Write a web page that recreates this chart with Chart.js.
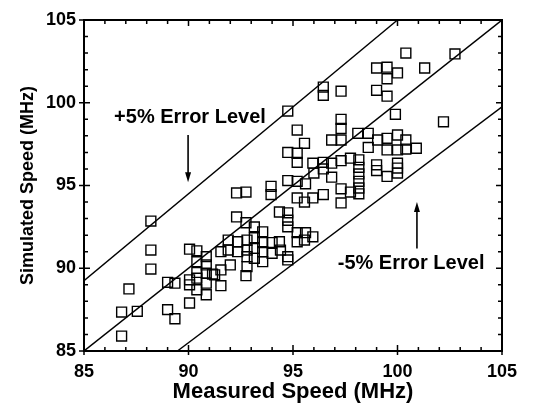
<!DOCTYPE html>
<html>
<head>
<meta charset="utf-8">
<script src="https://cdn.jsdelivr.net/npm/chart.js@4.4.0/dist/chart.umd.min.js"></script>
<style>
  html, body { margin: 0; padding: 0; background: #fff; }
</style>
</head>
<body>
<canvas id="chart" width="545" height="409"></canvas>
<script>
// measured vs simulated speed (MHz)
const measuredSpeed = [
  88.2, 88.2, 88.2, 87.15, 86.8, 87.55, 86.8, 89.0, 89.35, 89.0, 89.35,
  90.05, 90.4, 90.85, 90.4, 90.85, 90.4, 90.85, 91.25, 90.05, 90.05, 90.85, 90.85, 90.05, 90.4, 91.55, 91.55, 91.55, 91.9, 91.9, 92.0, 91.15, 90.4,
  92.3, 92.75, 92.3, 92.75, 92.35, 92.35, 92.8, 92.8, 92.8, 92.8, 92.75, 93.15, 93.15, 93.15, 93.15, 93.55, 93.55, 93.55, 93.55, 93.95, 93.95, 94.0, 94.0,
  94.35, 94.75, 94.75, 94.75, 94.35, 94.4, 94.75, 94.75, 94.75, 95.2, 95.2, 95.55, 95.95, 95.2, 95.2, 95.6, 95.95, 95.6, 96.45, 95.55,
  94.75, 95.2, 95.55, 94.75, 95.2, 95.2, 95.95, 96.45, 96.45, 97.3,
  96.45, 96.45, 96.85, 97.3, 97.75, 98.15, 98.15, 98.15, 98.15, 98.15, 98.15, 96.0, 96.85, 97.3, 97.75, 97.3,
  97.3, 97.3, 96.85, 97.3, 98.1, 98.6, 98.6, 99.05, 99.5, 100.0, 100.4, 100.9, 99.5, 100.0, 100.4, 99.0, 99.0, 99.5, 100.0, 100.0, 100.0, 99.9, 102.2,
  100.4, 102.75, 99.0, 99.5, 100.0, 101.3, 99.5, 99.0, 99.5
];
const simulatedSpeed = [
  92.85, 91.1, 89.95, 88.75, 87.35, 87.4, 85.9, 89.15, 89.1, 87.5, 86.95,
  91.15, 91.05, 90.7, 90.4, 90.2, 89.75, 89.7, 89.6, 89.3, 89.0, 89.1, 88.4, 87.9, 88.7, 88.95, 91.0, 89.9, 91.7, 91.1, 90.2, 89.65, 89.4,
  94.55, 94.6, 93.1, 92.75, 91.6, 91.0, 91.7, 91.1, 90.7, 90.1, 89.55, 92.5, 91.85, 91.2, 90.6, 92.2, 91.55, 91.0, 90.4, 94.95, 94.45, 91.55, 90.9,
  93.4, 93.35, 92.9, 92.5, 91.6, 91.1, 90.7, 90.5, 95.3, 95.25, 94.25, 94.0, 94.25, 92.15, 91.6, 92.15, 91.9, 95.1, 94.45, 91.7,
  99.5, 98.35, 97.55, 97.0, 96.95, 96.4, 96.35, 100.95, 100.45, 100.7,
  96.4, 96.0, 96.35, 96.5, 96.65, 96.55, 96.1, 95.7, 95.25, 94.85, 94.5, 95.75, 95.5, 94.8, 94.6, 93.95,
  99.0, 98.45, 97.75, 97.75, 98.15, 98.15, 97.3, 97.75, 97.85, 98.05, 97.75, 97.25, 97.15, 97.15, 97.2, 96.25, 95.9, 95.55, 96.35, 96.05, 95.75, 99.3, 98.85,
  103.0, 102.95, 102.1, 102.15, 101.8, 102.1, 101.45, 100.75, 100.4
];

// reference lines: exact, +5% and -5%
const idealX = [85, 105];
const idealY = [85, 105];
const plusX = [85, 100];
const plusY = [89.25, 105];
const minusX = [89.47, 105];
const minusY = [85, 99.75];

const axisMin = 85;
const axisMax = 105;

function zip(xs, ys) {
  return xs.map((v, i) => ({ x: v, y: ys[i] }));
}

const labelNotes = [
  { text: '+5% Error Level', x: 90.07, y: 99.08, arrowX: 89.98, from: 98.05, to: 95.2 },
  { text: '-5% Error Level', x: 100.65, y: 90.3, arrowX: 100.93, from: 91.2, to: 94.0 }
];

const frameTicks = {
  id: 'frameTicks',
  afterDraw(chart) {
    const { ctx, chartArea: a, scales: { x, y } } = chart;
    ctx.save();
    ctx.strokeStyle = '#000';
    ctx.lineWidth = 2;
    ctx.strokeRect(a.left, a.top, a.right - a.left, a.bottom - a.top);
    ctx.lineWidth = 1.5;
    ctx.beginPath();
    for (let v = axisMin; v <= axisMax; v++) {
      const major = v % 5 === 0;
      const len = major ? 6 : 4;
      const px = x.getPixelForValue(v);
      ctx.moveTo(px, a.bottom); ctx.lineTo(px, a.bottom - len);
      ctx.moveTo(px, a.top); ctx.lineTo(px, a.top + len);
      if (major) { ctx.moveTo(px, a.bottom); ctx.lineTo(px, a.bottom + 4); }
      const py = y.getPixelForValue(v);
      ctx.moveTo(a.left, py); ctx.lineTo(a.left + len, py);
      ctx.moveTo(a.right, py); ctx.lineTo(a.right - len, py);
      if (major) { ctx.moveTo(a.left - 5, py); ctx.lineTo(a.left, py); }
    }
    ctx.stroke();

    // error level notes with arrows
    ctx.fillStyle = '#000';
    ctx.font = 'bold 20px "Liberation Sans", Arial, sans-serif';
    ctx.textAlign = 'center';
    ctx.textBaseline = 'middle';
    labelNotes.forEach(n => {
      ctx.fillText(n.text, x.getPixelForValue(n.x), y.getPixelForValue(n.y));
      const ax = x.getPixelForValue(n.arrowX);
      const y0 = y.getPixelForValue(n.from);
      const y1 = y.getPixelForValue(n.to);
      const dir = y1 > y0 ? 1 : -1;
      ctx.lineWidth = 1.6;
      ctx.beginPath();
      ctx.moveTo(ax, y0);
      ctx.lineTo(ax, y1 - dir * 8);
      ctx.stroke();
      ctx.beginPath();
      ctx.moveTo(ax, y1);
      ctx.lineTo(ax - 3, y1 - dir * 10);
      ctx.lineTo(ax + 3, y1 - dir * 10);
      ctx.closePath();
      ctx.fill();
    });
    ctx.restore();
  }
};

const lineStyle = {
  type: 'scatter',
  showLine: true,
  borderColor: '#000',
  borderWidth: 1.4,
  pointRadius: 0,
  fill: false
};

new Chart(document.getElementById('chart'), {
  type: 'scatter',
  data: {
    datasets: [
      {
        label: 'speed',
        data: zip(measuredSpeed, simulatedSpeed),
        pointStyle: 'rect',
        pointRadius: 7,
        borderColor: '#000',
        backgroundColor: 'rgba(0,0,0,0)',
        borderWidth: 1.4
      },
      Object.assign({ data: zip(idealX, idealY) }, lineStyle),
      Object.assign({ data: zip(plusX, plusY) }, lineStyle),
      Object.assign({ data: zip(minusX, minusY) }, lineStyle)
    ]
  },
  options: {
    responsive: false,
    animation: false,
    layout: { padding: { top: 20, right: 43, left: 0, bottom: 0 } },
    plugins: { legend: { display: false }, tooltip: { enabled: false } },
    scales: {
      x: {
        min: axisMin, max: axisMax,
        grid: { display: false, drawTicks: false },
        border: { display: false },
        ticks: {
          stepSize: 5, padding: 10, color: '#000',
          font: { family: '"Liberation Sans", Arial, sans-serif', size: 18, weight: 'bold' }
        },
        title: {
          display: true, text: 'Measured Speed (MHz)', color: '#000',
          padding: { top: 0, bottom: 4 },
          font: { family: '"Liberation Sans", Arial, sans-serif', size: 22, weight: 'bold' }
        },
        afterFit: s => { s.height = 58; }
      },
      y: {
        min: axisMin, max: axisMax,
        grid: { display: false, drawTicks: false },
        border: { display: false },
        ticks: {
          stepSize: 5, padding: 8, color: '#000',
          font: { family: '"Liberation Sans", Arial, sans-serif', size: 18, weight: 'bold' }
        },
        title: {
          display: true, text: 'Simulated Speed (MHz)', color: '#000',
          padding: { top: 17, bottom: 0 },
          font: { family: '"Liberation Sans", Arial, sans-serif', size: 18, weight: 'bold' }
        },
        afterFit: s => { s.width = 84; }
      }
    }
  },
  plugins: [frameTicks]
});
</script>
</body>
</html>
